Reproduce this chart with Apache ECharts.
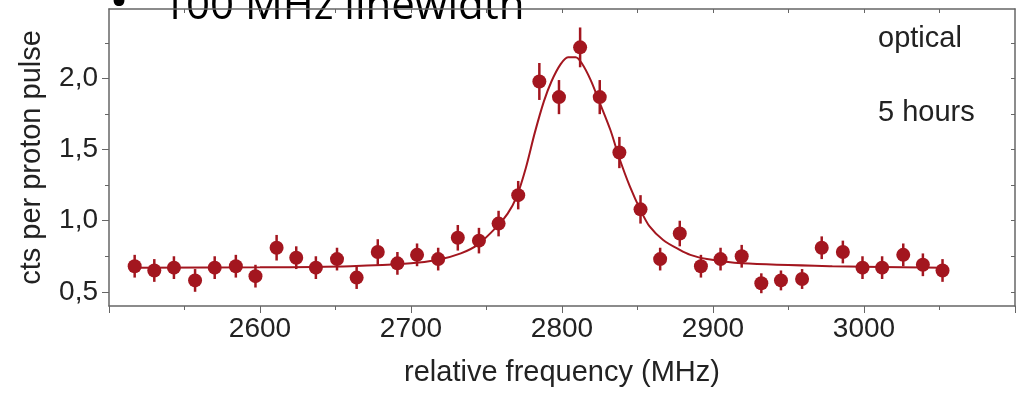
<!DOCTYPE html>
<html>
<head>
<meta charset="utf-8">
<script src="https://cdn.jsdelivr.net/npm/echarts@6/dist/echarts.min.js"></script>
<style>
  html, body { margin: 0; padding: 0; background: #fff; }
  #chart { width: 1016px; height: 393px; }
</style>
</head>
<body>
<div id="chart"></div>
<script>
// 测量数据 (频率 MHz, 计数, 误差)
const freq = [2517, 2530, 2543, 2557, 2570, 2584, 2597, 2611, 2624, 2637,
  2651, 2664, 2678, 2691, 2704, 2718, 2731, 2745, 2758, 2771,
  2785, 2798, 2812, 2825, 2838, 2852, 2865, 2878, 2892, 2905,
  2919, 2932, 2945, 2959, 2972, 2986, 2999, 3012, 3026, 3039, 3052];
const counts = [0.68, 0.65, 0.67, 0.58, 0.67, 0.68, 0.61, 0.81, 0.74, 0.67,
  0.73, 0.60, 0.78, 0.70, 0.76, 0.73, 0.88, 0.86, 0.98, 1.18,
  1.98, 1.87, 2.22, 1.87, 1.48, 1.08, 0.73, 0.91, 0.68, 0.73,
  0.75, 0.56, 0.58, 0.59, 0.81, 0.78, 0.67, 0.67, 0.76, 0.69, 0.65];
const errs = [0.08, 0.08, 0.08, 0.08, 0.08, 0.08, 0.08, 0.09, 0.08, 0.08,
  0.08, 0.08, 0.09, 0.08, 0.08, 0.08, 0.09, 0.09, 0.09, 0.10,
  0.13, 0.12, 0.14, 0.12, 0.11, 0.10, 0.08, 0.09, 0.08, 0.08,
  0.08, 0.07, 0.07, 0.07, 0.08, 0.08, 0.08, 0.08, 0.08, 0.08, 0.08];

// 拟合曲线
const fitFreq = [2517, 2600, 2660, 2700, 2718, 2733, 2744, 2757, 2764, 2770,
  2776, 2782, 2788, 2793, 2799, 2804, 2809, 2813, 2819, 2825,
  2832, 2838, 2845, 2852, 2858, 2867, 2878, 2885, 2896, 2919, 2979, 3053];
const fitCounts = [0.67, 0.672, 0.68, 0.70, 0.725, 0.77, 0.83, 0.96, 1.05, 1.17,
  1.37, 1.62, 1.84, 1.98, 2.10, 2.15, 2.15, 2.11, 1.99, 1.83,
  1.64, 1.44, 1.24, 1.075, 0.96, 0.865, 0.795, 0.76, 0.73, 0.70, 0.68, 0.67];

// 坐标轴刻度
const yMajor = [0.5, 1.0, 1.5, 2.0];
const yMinor = [0.75, 1.25, 1.75, 2.25];
const xTopTicks = [2550, 2600, 2650, 2700, 2750, 2800, 2850, 2900, 2950, 3000, 3050];

const red = '#a3161f';
const axisColor = '#666';
const font = 'Liberation Sans';

var myChart = echarts.init(document.getElementById('chart'));

var pts = freq.map(function (f, i) { return [f, counts[i], errs[i]]; });
var fit = fitFreq.map(function (f, i) { return [f, fitCounts[i]]; });

var option = {
  animation: false,
  textStyle: { fontFamily: font },
  grid: { left: 109, top: 9, width: 906, height: 297 },
  xAxis: [{
    type: 'value',
    position: 'bottom',
    min: 2500, max: 3100, interval: 100,
    name: 'relative frequency (MHz)',
    nameLocation: 'middle',
    nameGap: 52,
    nameTextStyle: { fontSize: 29, color: '#222', fontFamily: font },
    axisLine: { show: true, lineStyle: { color: axisColor, width: 1.5 } },
    axisTick: { show: true, length: 7, lineStyle: { color: axisColor, width: 1 } },
    minorTick: { show: true, splitNumber: 2, length: 4, lineStyle: { color: axisColor, width: 1 } },
    axisLabel: {
      fontSize: 28, color: '#222', margin: 9, showMinLabel: false, showMaxLabel: false,
      formatter: function (v) { return String(v); }
    },
    splitLine: { show: false }
  }, {
    type: 'value',
    position: 'top',
    min: 2500, max: 3100,
    axisLine: { show: true, lineStyle: { color: axisColor, width: 1.5 } },
    axisTick: { show: true, inside: true, length: 4, customValues: xTopTicks, lineStyle: { color: axisColor } },
    axisLabel: { show: false },
    splitLine: { show: false }
  }],
  yAxis: [{
    type: 'value',
    position: 'left',
    min: 0.4, max: 2.49,
    name: 'cts per proton pulse',
    nameLocation: 'middle',
    nameRotate: 90,
    nameGap: 63,
    nameTextStyle: { fontSize: 29, color: '#222', fontFamily: font },
    axisLine: { show: true, lineStyle: { color: axisColor, width: 1.5 } },
    axisTick: { show: true, length: 7, customValues: yMajor, lineStyle: { color: axisColor } },
    axisLabel: {
      fontSize: 28, color: '#222', margin: 11, customValues: yMajor,
      formatter: function (v) { return v.toFixed(1).replace('.', ','); }
    },
    splitLine: { show: false }
  }, {
    type: 'value',
    position: 'left',
    min: 0.4, max: 2.49,
    axisLine: { show: false },
    axisTick: { show: true, length: 4, customValues: yMinor, lineStyle: { color: axisColor } },
    axisLabel: { show: false },
    splitLine: { show: false }
  }, {
    type: 'value',
    position: 'right',
    min: 0.4, max: 2.49,
    axisLine: { show: true, lineStyle: { color: axisColor, width: 1.5 } },
    axisTick: { show: true, inside: true, length: 4, customValues: yMajor.concat(yMinor), lineStyle: { color: axisColor } },
    axisLabel: { show: false },
    splitLine: { show: false }
  }],
  graphic: [
    { type: 'text', x: 119, y: 4, z: 0, style: { text: '•', fontSize: 52, fontFamily: 'Open Sans', fill: '#000', align: 'center', verticalAlign: 'middle' } },
    { type: 'text', x: 162, y: 7, z: 0, style: { text: '100 MHz linewidth', fontSize: 42, fontFamily: 'Open Sans', fill: '#000', align: 'left', verticalAlign: 'middle' } },
    { type: 'text', x: 878, y: 39, style: { text: 'optical', fontSize: 29, fontFamily: font, fill: '#222', align: 'left', verticalAlign: 'middle' } },
    { type: 'text', x: 878, y: 113, style: { text: '5 hours', fontSize: 29, fontFamily: font, fill: '#222', align: 'left', verticalAlign: 'middle' } }
  ],
  series: [{
    type: 'line',
    data: fit,
    smooth: 0.3,
    showSymbol: false,
    lineStyle: { color: red, width: 2 },
    z: 2
  }, {
    type: 'custom',
    data: pts,
    z: 3,
    renderItem: function (params, api) {
      var x = api.value(0), y = api.value(1), e = api.value(2);
      var top = api.coord([x, y + e]);
      var bot = api.coord([x, y - e]);
      return {
        type: 'line',
        shape: { x1: top[0], y1: top[1], x2: bot[0], y2: bot[1] },
        style: { stroke: red, lineWidth: 2.5 }
      };
    }
  }, {
    type: 'scatter',
    data: pts,
    symbol: 'circle',
    symbolSize: 14,
    itemStyle: { color: red, opacity: 1 },
    z: 4
  }]
};

myChart.setOption(option);

window.addEventListener('resize', function () {
  myChart.resize();
});
</script>
</body>
</html>
